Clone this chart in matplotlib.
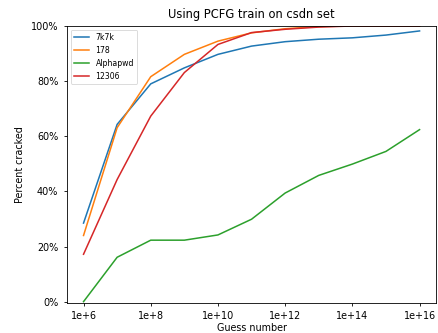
import matplotlib
matplotlib.use("Agg")
import matplotlib.pyplot as plt
from matplotlib.ticker import PercentFormatter, NullLocator

##Guess numbers (one point per decade)
guesses = [1e6, 1e7, 1e8, 1e9, 1e10, 1e11, 1e12, 1e13, 1e14, 1e15, 1e16]

##Fraction of passwords cracked for each test set
k7k7 = [0.285, 0.643, 0.790, 0.848, 0.897, 0.927, 0.943, 0.952, 0.957, 0.967, 0.982]
s178 = [0.240, 0.631, 0.816, 0.897, 0.945, 0.975, 0.990, 0.998, 1.0, 1.0, 1.0]
alphapwd = [0.0, 0.161, 0.223, 0.223, 0.242, 0.299, 0.394, 0.458, 0.499, 0.545, 0.624]
s12306 = [0.172, 0.443, 0.673, 0.831, 0.933, 0.976, 0.988, 0.996, 1.0, 1.0, 1.0]

tick_vals = [1e6, 1e8, 1e10, 1e12, 1e14, 1e16]
tick_labels = ["1e+6", "1e+8", "1e+10", "1e+12", "1e+14", "1e+16"]

fig = plt.figure(figsize=(4.39, 3.33), dpi=100)
fig.subplots_adjust(left=0.152, right=0.994, top=0.922, bottom=0.090)
ax = fig.add_subplot(111)

lw = 1.1
ax.plot(guesses, k7k7, color="#1f77b4", lw=lw, label="7k7k")
ax.plot(guesses, s178, color="#ff7f0e", lw=lw, label="178")
ax.plot(guesses, alphapwd, color="#2ca02c", lw=lw, label="Alphapwd")
ax.plot(guesses, s12306, color="#d62728", lw=lw, label="12306")

ax.set_xscale("log")
ax.set_xticks(tick_vals)
ax.set_xticklabels(tick_labels)
ax.xaxis.set_minor_locator(NullLocator())
ax.set_ylim(-0.005, 1.0)
ax.set_yticks([0, 0.2, 0.4, 0.6, 0.8, 1.0])
ax.yaxis.set_major_formatter(PercentFormatter(xmax=1, decimals=0))
ax.tick_params(labelsize=6.9, width=0.6, length=2.5)
for s in ax.spines.values():
	s.set_linewidth(0.6)

ax.set_title("Using PCFG train on csdn set", fontsize=8.3)
ax.set_xlabel("Guess number", fontsize=6.9, labelpad=1)
ax.set_ylabel("Percent cracked", fontsize=6.9)
leg = ax.legend(loc="upper left", fontsize=5.6)
leg.get_frame().set_linewidth(0.6)

fig.savefig("out.png", dpi=100)
